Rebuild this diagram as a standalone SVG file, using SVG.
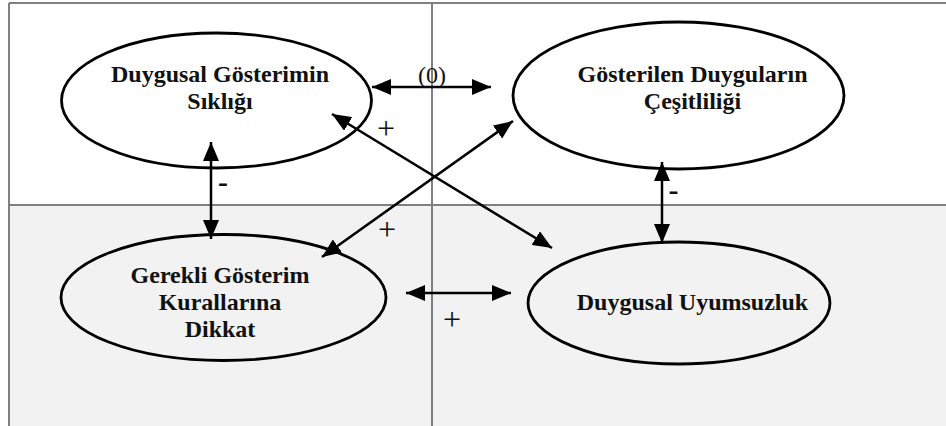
<svg xmlns="http://www.w3.org/2000/svg" width="946" height="426" viewBox="0 0 946 426">
  <style>
    .grid { stroke: #808080; stroke-width: 2; fill: none; }
    .node { fill: none; stroke: #000; stroke-width: 2.8; }
    .lbl { font-family: "Liberation Serif", "Times New Roman", serif; font-weight: bold; font-size: 24px; fill: #111; text-anchor: middle; }
    .edge { stroke: #000; stroke-width: 2.5; fill: none; marker-start: url(#ah); marker-end: url(#ah); }
    .elbl { font-family: "Liberation Serif", "Times New Roman", serif; font-size: 32px; fill: #111; text-anchor: middle; }
    .minus { font-family: "Liberation Serif", "Times New Roman", serif; font-weight: bold; font-size: 30px; fill: #111; text-anchor: middle; }
  </style>
  <defs>
    <marker id="ah" viewBox="0 0 19 16" refX="19" refY="8" markerWidth="19" markerHeight="16" markerUnits="userSpaceOnUse" orient="auto-start-reverse">
      <path d="M0,0 L19,8 L0,16 z" fill="#000"/>
    </marker>
  </defs>

  <g id="background">
    <rect x="0" y="0" width="946" height="426" fill="#ffffff"/>
    <rect x="9" y="205" width="937" height="221" fill="#f2f2f2"/>
    <path class="grid" d="M9,3 H946 M9,3 V426 M432,3 V426 M9,205 H946"/>
  </g>

  <g id="connectors">
    <line class="edge" x1="372" y1="87" x2="491" y2="87"/>
    <line class="edge" x1="211" y1="142" x2="211" y2="239"/>
    <line class="edge" x1="662" y1="162" x2="662" y2="243"/>
    <line class="edge" x1="332" y1="114" x2="552" y2="248"/>
    <line class="edge" x1="322" y1="257" x2="513" y2="121"/>
    <line class="edge" x1="406" y1="293" x2="511" y2="293"/>
    <text x="432" y="83" style="font-family: 'Liberation Serif', 'Times New Roman', serif; font-size: 24px; fill: #111; text-anchor: middle;">(0)</text>
    <text class="elbl" x="386" y="139">+</text>
    <text class="elbl" x="387" y="240">+</text>
    <text class="elbl" x="452" y="330">+</text>
    <text class="minus" x="223" y="192">-</text>
    <text class="minus" x="673.5" y="200">-</text>
  </g>

  <g id="node-siklik">
    <ellipse class="node" cx="216.5" cy="100.5" rx="155" ry="67.5"/>
    <text class="lbl" x="220" y="81.5">Duygusal Gösterimin</text>
    <text class="lbl" x="220" y="108.5">Sıklığı</text>
  </g>

  <g id="node-cesitlilik">
    <ellipse class="node" cx="678.5" cy="95.5" rx="165.5" ry="73.5"/>
    <text class="lbl" x="692.5" y="81.5">Gösterilen Duyguların</text>
    <text class="lbl" x="692.5" y="108.5">Çeşitliliği</text>
  </g>

  <g id="node-kurallar">
    <ellipse class="node" cx="223.5" cy="297.5" rx="162.5" ry="63"/>
    <text class="lbl" x="220" y="283">Gerekli Gösterim</text>
    <text class="lbl" x="220" y="310">Kurallarına</text>
    <text class="lbl" x="220" y="337">Dikkat</text>
  </g>

  <g id="node-uyumsuzluk">
    <ellipse class="node" cx="679" cy="303" rx="151" ry="61"/>
    <text class="lbl" x="692.5" y="310">Duygusal Uyumsuzluk</text>
  </g>
</svg>
